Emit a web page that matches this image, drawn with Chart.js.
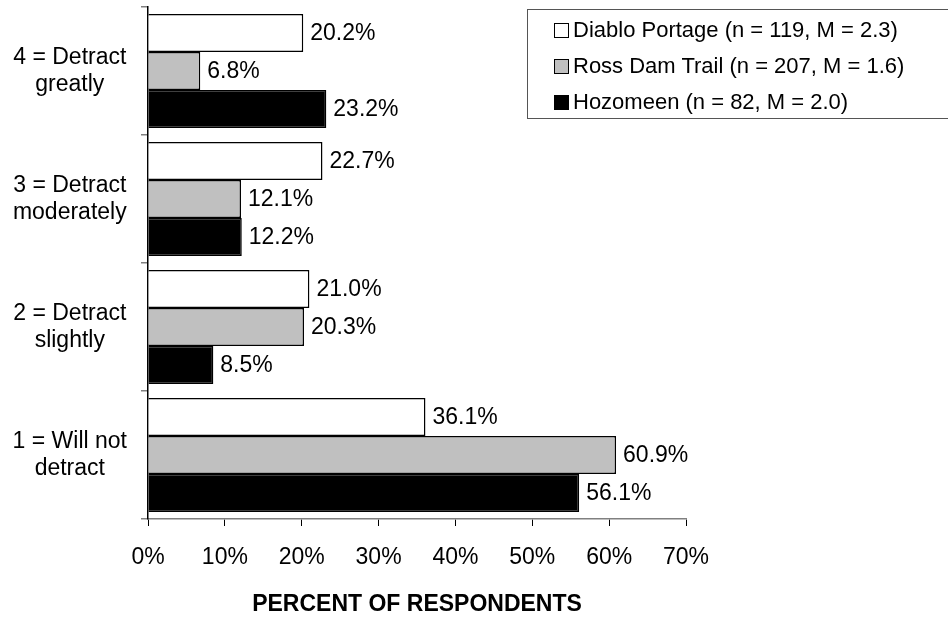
<!DOCTYPE html>
<html>
<head>
<meta charset="utf-8">
<script src="https://cdn.jsdelivr.net/npm/chart.js@4.4.0/dist/chart.umd.min.js"></script>
<style>
  html, body { margin: 0; padding: 0; background: #fff; }
  #wrap { position: relative; width: 948px; height: 618px; overflow: hidden; }
  #legend {
    position: absolute; left: 527px; top: 9px; width: 440px; height: 110px;
    border: 1px solid #555; box-sizing: border-box;
    font-family: "Liberation Sans", Arial, sans-serif; font-size: 22px; color: #000;
  }
  #legend .row { position: absolute; left: 26px; height: 26px; line-height: 26px; white-space: nowrap; }
  #legend .box { display: inline-block; width: 13px; height: 13px; border: 1px solid #000; margin-right: 4px; vertical-align: -1px; }
</style>
</head>
<body>
<div id="wrap">
  <canvas id="grafico" width="948" height="618"></canvas>
  <div id="legend"></div>
</div>
<script>
/* global Chart */
const CATEGORIAS = [['4 = Detract', 'greatly'], ['3 = Detract', 'moderately'], ['2 = Detract', 'slightly'], ['1 = Will not', 'detract']];
const SERIES = ['Diablo Portage (n = 119, M = 2.3)', 'Ross Dam Trail (n = 207, M = 1.6)', 'Hozomeen (n = 82, M = 2.0)'];
const DIABLO = [20.2, 22.7, 21.0, 36.1];
const ROSS = [6.8, 12.1, 20.3, 60.9];
const HOZOMEEN = [23.2, 12.2, 8.5, 56.1];
const TICKS_X = [0, 10, 20, 30, 40, 50, 60, 70];

const FONTE = '"Liberation Sans", Arial, sans-serif';
const CORES = ['#ffffff', '#c0c0c0', '#000000'];

const rotulosBarras = {
  id: 'rotulosBarras',
  afterDatasetsDraw(chart) {
    const ctx = chart.ctx;
    ctx.save();
    ctx.font = '23px ' + FONTE;
    ctx.fillStyle = '#000';
    ctx.textAlign = 'left';
    ctx.textBaseline = 'middle';
    chart.data.datasets.forEach((ds, i) => {
      chart.getDatasetMeta(i).data.forEach((bar, j) => {
        ctx.fillText(ds.data[j].toFixed(1) + '%', bar.x + 7, bar.y + 1);
      });
    });
    ctx.restore();
  }
};

function dataset(label, data, cor) {
  return {
    label, data, backgroundColor: cor, borderColor: '#000', borderWidth: 1.5,
    categoryPercentage: 0.89, barPercentage: 1
  };
}

new Chart(document.getElementById('grafico'), {
  type: 'bar',
  data: {
    labels: CATEGORIAS,
    datasets: [
      dataset(SERIES[0], DIABLO, CORES[0]),
      dataset(SERIES[1], ROSS, CORES[1]),
      dataset(SERIES[2], HOZOMEEN, CORES[2])
    ]
  },
  options: {
    indexAxis: 'y', responsive: false, animation: false, devicePixelRatio: 1,
    layout: { padding: { top: 7, right: 262, bottom: 0, left: 0 } },
    plugins: { legend: { display: false }, tooltip: { enabled: false } },
    scales: {
      x: {
        min: 0, max: 70,
        afterBuildTicks: s => { s.ticks = TICKS_X.map(v => ({ value: v })); },
        afterFit: s => { s.height = 99; s.paddingLeft = 0; s.paddingRight = 0; },
        ticks: { callback: v => v + '%', color: '#000', font: { family: FONTE, size: 23 }, padding: 18, maxRotation: 0 },
        grid: { drawOnChartArea: false, tickLength: 7, color: '#000' },
        border: { color: '#808080', width: 1.5 },
        title: {
          display: true, text: 'PERCENT OF RESPONDENTS', color: '#000',
          font: { family: FONTE, size: 23, weight: 'bold' }, padding: { top: 0, bottom: 0 }
        }
      },
      y: {
        afterFit: s => { s.width = 148; s.paddingTop = 0; s.paddingBottom = 0; },
        ticks: { color: '#000', font: { family: FONTE, size: 23, lineHeight: 1.15 }, crossAlign: 'center', padding: 14 },
        grid: { drawOnChartArea: false, tickLength: 7, color: '#808080', lineWidth: 1.5 },
        border: { color: '#000', width: 1.5 }
      }
    }
  },
  plugins: [rotulosBarras]
});

const legenda = document.getElementById('legend');
SERIES.forEach((s, i) => {
  const row = document.createElement('div');
  row.className = 'row';
  row.style.top = (7 + i * 36) + 'px';
  const box = document.createElement('span');
  box.className = 'box';
  box.style.background = CORES[i];
  row.appendChild(box);
  row.appendChild(document.createTextNode(s));
  legenda.appendChild(row);
});
</script>
</body>
</html>
